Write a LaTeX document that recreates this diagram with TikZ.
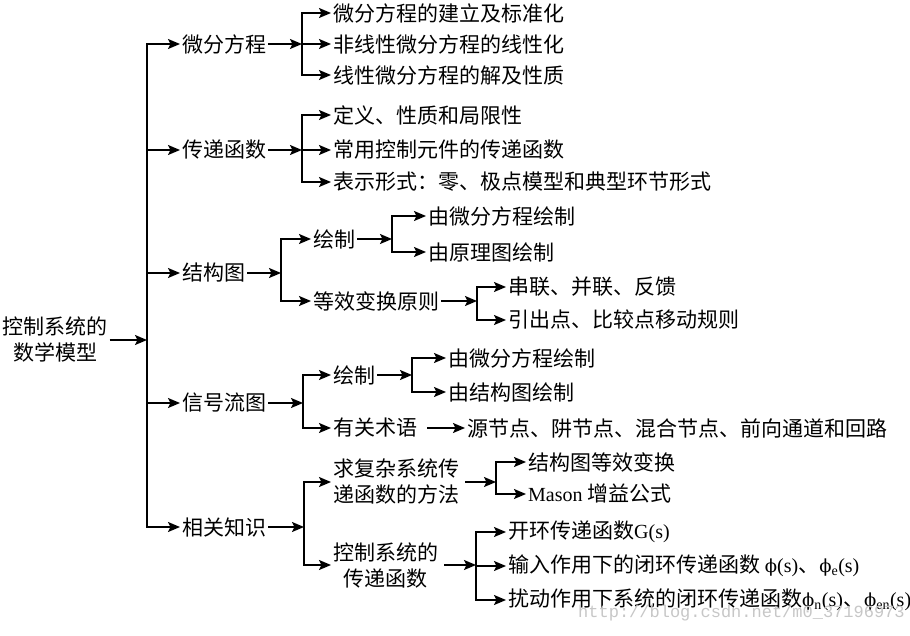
\documentclass[tikz,border=0pt]{standalone}
\usepackage{fontspec}
\setmainfont{Liberation Serif}
\newfontfamily\cjkfont{Noto Sans CJK SC}
\newfontfamily\wmfont{Liberation Mono}
\newfontfamily\phifont{DejaVu Serif}
\usetikzlibrary{arrows.meta}
\newcommand\latn[1]{{\rmfamily\fontsize{20}{24}\selectfont #1}}
\newcommand\myphi{{\phifont\fontsize{18}{24}\selectfont ϕ}}
\tikzset{
  x=1pt, y=-1pt,
  lbl/.style={anchor=west, inner sep=2pt, font=\cjkfont\fontsize{21}{26}\selectfont},
  arr/.style={-{Stealth[length=12pt,width=10pt,inset=2.5pt]}, line width=1.8pt},
  wmk/.style={anchor=west, inner sep=0pt, text=black!22, font=\wmfont\fontsize{17}{20}\selectfont}
}
\begin{document}
\begin{tikzpicture}
\useasboundingbox[fill=white] (0,0) rectangle (910,635);
% root
\node[lbl, anchor=center, align=center] (root) at (55,340) {控制系统的\\数学模型};
% level 1
\node[lbl] (a) at (180,44) {微分方程};
\node[lbl] (b) at (180,150) {传递函数};
\node[lbl] (c) at (180,273) {结构图};
\node[lbl] (d) at (180,403) {信号流图};
\node[lbl] (e) at (180,527) {相关知识};
\coordinate (T) at (147,340);
\draw[arr] (root.east) -- (T);
\foreach \n in {a,b,c,d,e} \draw[arr] (T) |- (\n.west);
% a
\node[lbl] (a1) at (331,13) {微分方程的建立及标准化};
\node[lbl] (a2) at (331,44) {非线性微分方程的线性化};
\node[lbl] (a3) at (331,75) {线性微分方程的解及性质};
\coordinate (Ja) at (302,44);
\draw[arr] (a.east) -- (Ja);
\foreach \n in {a1,a2,a3} \draw[arr] (Ja) |- (\n.west);
% b
\node[lbl] (b1) at (331,115) {定义、性质和局限性};
\node[lbl] (b2) at (331,150) {常用控制元件的传递函数};
\node[lbl] (b3) at (331,182) {表示形式：零、极点模型和典型环节形式};
\coordinate (Jb) at (302,150);
\draw[arr] (b.east) -- (Jb);
\foreach \n in {b1,b2,b3} \draw[arr] (Jb) |- (\n.west);
% c
\node[lbl] (c1) at (311,239) {绘制};
\node[lbl] (c2) at (311,301) {等效变换原则};
\coordinate (Jc) at (281,273);
\draw[arr] (c.east) -- (Jc);
\foreach \n in {c1,c2} \draw[arr] (Jc) |- (\n.west);
\node[lbl] (c11) at (426,216) {由微分方程绘制};
\node[lbl] (c12) at (426,252) {由原理图绘制};
\coordinate (Jc1) at (392,239);
\draw[arr] (c1.east) -- (Jc1);
\foreach \n in {c11,c12} \draw[arr] (Jc1) |- (\n.west);
\node[lbl] (c21) at (506,287) {串联、并联、反馈};
\node[lbl] (c22) at (506,320) {引出点、比较点移动规则};
\coordinate (Jc2) at (477,301);
\draw[arr] (c2.east) -- (Jc2);
\foreach \n in {c21,c22} \draw[arr] (Jc2) |- (\n.west);
% d
\node[lbl] (d1) at (331,375) {绘制};
\node[lbl] (d2) at (331,428) {有关术语};
\coordinate (Jd) at (303,403);
\draw[arr] (d.east) -- (Jd);
\foreach \n in {d1,d2} \draw[arr] (Jd) |- (\n.west);
\node[lbl] (d11) at (446,358) {由微分方程绘制};
\node[lbl] (d12) at (446,392) {由结构图绘制};
\coordinate (Jd1) at (412,375);
\draw[arr] (d1.east) -- (Jd1);
\foreach \n in {d11,d12} \draw[arr] (Jd1) |- (\n.west);
\node[lbl] (d21) at (465,428) {源节点、阱节点、混合节点、前向通道和回路};
\draw[arr, shorten <=8pt] (d2.east) -- (d21.west);
% e
\node[lbl, align=left] (e1) at (331,482) {求复杂系统传\\递函数的方法};
\node[lbl, align=center] (e2) at (331,565) {控制系统的\\传递函数};
\coordinate (Je) at (304,527);
\draw[arr] (e.east) -- (Je);
\foreach \n in {e1,e2} \draw[arr] (Je) |- (\n.west);
\node[lbl] (e11) at (526,462) {结构图等效变换};
\node[lbl] (e12) at (526,494) {\latn{Mason} 增益公式};
\coordinate (Je1) at (496,482);
\draw[arr, shorten <=4pt] (e1.east) -- (Je1);
\foreach \n in {e11,e12} \draw[arr] (Je1) |- (\n.west);
\node[lbl] (e21) at (506,532) {开环传递函数\latn{G(s)}};
\node[lbl] (e22) at (506,566) {输入作用下的闭环传递函数 \myphi\latn{(s)}、\myphi\latn{\textsubscript{e}(s)}};
\node[lbl] (e23) at (506,600) {扰动作用下系统的闭环传递函数\myphi\latn{\textsubscript{n}(s)}、\myphi\latn{\textsubscript{en}(s)}};
\coordinate (Je2) at (476,565);
\draw[arr, shorten <=4pt] (e2.east) -- (Je2);
\foreach \n in {e21,e22,e23} \draw[arr] (Je2) |- (\n.west);
% watermark
\node[wmk] (wm) at (578,613) {http://blog.csdn.net/m0\_37196973};
\end{tikzpicture}
\end{document}
